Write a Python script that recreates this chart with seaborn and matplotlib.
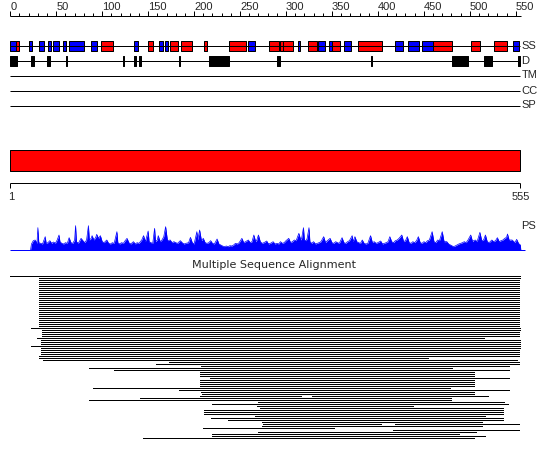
import numpy as np
import pandas as pd
import matplotlib
matplotlib.use("Agg")
import matplotlib.pyplot as plt
import seaborn as sns

sns.set_style("white")
plt.rcParams['font.family'] = ['Liberation Sans', 'DejaVu Sans']

seq_len = 555

# secondary structure (residue ranges)
helix_start = [6, 99, 150, 174, 186, 211, 238, 282, 294, 297, 324, 350, 378, 460, 501, 526]
helix_end = [9, 112, 155, 182, 198, 214, 256, 292, 297, 308, 334, 359, 404, 481, 511, 540]
strand_start = [0, 20, 31, 41, 46, 57, 64, 88, 135, 162, 168, 259, 313, 335, 347, 363, 419, 433, 448, 547]
strand_end = [6, 24, 37, 44, 53, 61, 80, 94, 139, 166, 172, 266, 315, 342, 350, 371, 427, 445, 460, 554]

# disorder
dis_start = [0, 22, 40, 61, 123, 135, 140, 184, 216, 290, 393, 481, 515, 552]
dis_end = [7, 26, 43, 62, 124, 137, 142, 185, 238, 294, 394, 498, 524, 555]

tracks = ["TM", "CC", "SP"]

# ruler ticks
ruler_ticks = list(range(0, 551, 10))
ruler_labels = list(range(0, 551, 50))

# PS profile
ps_pos = [22, 23, 25, 27, 29, 30, 31, 33, 35, 38, 39, 41, 43, 45, 47, 49, 51, 53, 54, 56,
          58, 60, 62, 64, 66, 68, 70, 71, 72, 74, 76, 77, 79, 81, 83, 85, 86, 88, 89, 91,
          93, 94, 96, 98, 100, 102, 105, 107, 109, 111, 113, 116, 117, 119, 121, 123, 125, 127, 129, 131,
          134, 136, 138, 140, 143, 145, 147, 150, 151, 153, 155, 157, 158, 160, 161, 163, 165, 167, 169, 171,
          174, 176, 178, 180, 182, 185, 187, 189, 191, 194, 196, 198, 200, 203, 204, 206, 208, 210, 212, 214,
          216, 218, 220, 222, 225, 227, 229, 231, 233, 235, 237, 239, 241, 243, 245, 247, 249, 252, 254, 256,
          259, 261, 263, 265, 267, 268, 270, 272, 274, 276, 279, 281, 283, 286, 288, 290, 292, 294, 296, 298,
          300, 303, 305, 307, 309, 311, 314, 316, 317, 319, 320, 322, 323, 325, 326, 328, 330, 332, 334, 336,
          338, 341, 343, 345, 348, 350, 352, 354, 356, 358, 361, 363, 365, 367, 369, 372, 373, 375, 377, 379,
          381, 383, 385, 387, 389, 392, 394, 396, 398, 400, 403, 405, 407, 409, 411, 413, 415, 417, 419, 421,
          423, 426, 428, 430, 432, 434, 436, 438, 440, 442, 444, 446, 448, 450, 452, 454, 456, 459, 461, 463,
          465, 467, 470, 472, 475, 477, 479, 481, 482, 484, 486, 488, 490, 492, 494, 496, 498, 501, 503, 504,
          506, 508, 509, 511, 513, 515, 517, 519, 521, 524, 526, 528, 530, 532, 534, 536, 538, 540, 541, 543,
          544, 546, 548, 549, 551, 553, 555, 555.5]
ps_val = [0, 18, 28, 30, 20, 67, 22, 20, 18, 40, 20, 22, 28, 20, 24, 20, 30, 45, 25, 20,
          18, 22, 20, 37, 22, 20, 30, 73, 25, 20, 30, 35, 28, 22, 30, 73, 30, 35, 43, 30,
          38, 47, 35, 43, 25, 22, 30, 20, 18, 22, 20, 55, 22, 18, 22, 20, 28, 35, 22, 18,
          25, 18, 22, 20, 30, 43, 25, 57, 25, 22, 20, 65, 25, 30, 43, 25, 30, 40, 70, 28,
          30, 22, 25, 22, 20, 28, 22, 18, 20, 22, 38, 22, 18, 55, 30, 60, 28, 35, 22, 20,
          22, 28, 20, 18, 33, 18, 15, 12, 10, 12, 10, 13, 12, 15, 20, 18, 22, 35, 22, 25,
          30, 22, 25, 45, 25, 28, 45, 25, 20, 22, 27, 18, 20, 25, 18, 20, 18, 25, 20, 22,
          28, 35, 22, 25, 30, 28, 50, 30, 35, 67, 30, 28, 35, 67, 25, 20, 25, 18, 20, 22,
          25, 40, 22, 28, 35, 22, 20, 25, 22, 20, 37, 22, 20, 25, 28, 43, 25, 40, 25, 22,
          20, 30, 20, 18, 20, 43, 22, 25, 20, 22, 27, 18, 20, 22, 25, 40, 25, 22, 28, 30,
          35, 45, 25, 28, 40, 22, 20, 25, 22, 28, 40, 22, 20, 25, 22, 28, 30, 55, 25, 22,
          30, 28, 55, 25, 25, 18, 15, 12, 10, 12, 15, 18, 20, 22, 25, 22, 30, 45, 25, 28,
          30, 25, 35, 53, 28, 30, 45, 25, 22, 30, 25, 28, 37, 25, 28, 30, 35, 38, 48, 28,
          30, 30, 25, 22, 32, 20, 15, 0]

# multiple sequence alignment hits: row, start, end
msa_row = [0, 1, 2, 3, 4, 5, 6, 7, 8, 9, 10, 11, 12, 13, 14, 15, 16, 17, 18, 19,
           20, 21, 22, 23, 24, 25, 26, 27, 28, 29, 30, 31, 32, 33, 34, 35, 36, 37, 38, 39,
           40, 41, 42, 43, 44, 45, 46, 47, 48, 49, 50, 51, 52, 53, 54, 55, 56, 57, 58, 59,
           60, 60, 61, 62, 63, 64, 65, 66, 67, 68, 69, 70, 71, 72, 73, 74, 74, 75, 76, 77,
           78, 79, 80, 81]
msa_start = [0, 31, 31, 31, 31, 31, 31, 31, 31, 31, 31, 31, 31, 31, 31, 31, 31, 31, 31, 31,
             31, 31, 31, 31, 31, 31, 23, 34, 34, 34, 34, 29, 33, 33, 33, 23, 33, 33, 33, 33,
             31, 31, 36, 173, 158, 207, 86, 113, 206, 206, 206, 217, 206, 206, 206, 206, 90, 184, 207, 209,
             206, 328, 141, 86, 270, 220, 268, 272, 211, 211, 211, 266, 218, 237, 274, 275, 419, 274, 210, 416,
             270, 220, 220, 144]
msa_end = [555, 555, 553, 553, 553, 553, 553, 553, 553, 553, 553, 553, 553, 553, 553, 553, 553, 553, 553, 553,
           553, 553, 553, 553, 553, 553, 555, 555, 554, 554, 554, 515, 555, 555, 555, 555, 555, 554, 554, 554,
           554, 455, 551, 554, 554, 543, 481, 543, 505, 505, 505, 543, 505, 505, 505, 505, 478, 543, 505, 505,
           316, 520, 479, 480, 537, 542, 438, 536, 536, 536, 536, 516, 536, 536, 513, 403, 554, 513, 352, 554,
           507, 488, 516, 505]

W, H = 550, 459
px_per_res = 0.919
x0 = 10.3
xlim = (-x0 / px_per_res, (W - x0) / px_per_res)
one_px = 0.72

fig = plt.figure(figsize=(W / 100, H / 100), dpi=100)
ax = fig.add_axes([0, 0, 1, 1])
ax.set_xlim(xlim)
ax.set_ylim(H, 0)
ax.axis('off')

# top ruler
ax.hlines(15.5, 0, 556, color='black', lw=one_px)
for t in ruler_ticks:
    top = 11 if t in ruler_labels else 12.5
    ax.vlines(t, top, 15.5, color='black', lw=one_px)
for t in ruler_labels:
    ax.text(t, 10, str(t), ha='left', va='baseline', fontsize=8)

# SS track
ax.hlines(46, 0, seq_len, color='black', lw=one_px)
ax.broken_barh([(s, e - s) for s, e in zip(helix_start, helix_end)], (41, 10),
               facecolors='#ff0000', edgecolors='black', linewidth=one_px)
ax.broken_barh([(s, e - s) for s, e in zip(strand_start, strand_end)], (41, 10),
               facecolors='#0000ff', edgecolors='black', linewidth=one_px)
ax.text(556, 46, "SS", ha='left', va='center', fontsize=8)

# disorder track
ax.hlines(60.5, 0, seq_len, color='black', lw=one_px)
ax.broken_barh([(s, e - s) for s, e in zip(dis_start, dis_end)], (55.5, 10),
               facecolors='black', edgecolors='black', linewidth=one_px)
ax.text(556, 60.5, "D", ha='left', va='center', fontsize=8)

for k, name in enumerate(tracks):
    y = 75.5 + 15 * k
    ax.hlines(y, 0, seq_len, color='black', lw=one_px)
    ax.text(556, y, name, ha='left', va='center', fontsize=8)

# domain bar
ax.broken_barh([(0, seq_len)], (150, 21), facecolors='#ff0000', edgecolors='black', linewidth=one_px)
ax.hlines(183, 0, seq_len, color='black', lw=one_px)
ax.vlines([0, seq_len], 183, 187.5, color='black', lw=one_px)
ax.text(1, 197.5, "1", ha='center', va='center', fontsize=8)
ax.text(seq_len, 197.5, str(seq_len), ha='center', va='center', fontsize=8)

# PS profile
ax.hlines(250, 0, 560, color='#0000ff', lw=one_px)
ax.text(556, 226, "PS", ha='left', va='center', fontsize=8)
ax_ps = fig.add_axes([0, (H - 250) / H, 1, 25 / H])
ax_ps.set_xlim(xlim)
ax_ps.set_ylim(0, 75)
ax_ps.axis('off')
ax_ps.patch.set_alpha(0)
ax_ps.fill_between(ps_pos, ps_val, color='#0000ff', lw=0)
sns.lineplot(x=ps_pos, y=ps_val, color='#0000ff', lw=0.5, ax=ax_ps)

# MSA
ax.text(287, 265.5, "Multiple Sequence Alignment", ha='center', va='center', fontsize=8,
        family=['DejaVu Sans'])
ax_msa = fig.add_axes([0, (H - 438.5) / H, 1, 164 / H])
ax_msa.set_xlim(xlim)
ax_msa.set_ylim(81.5, -0.5)
ax_msa.axis('off')
ax_msa.patch.set_alpha(0)
ax_msa.hlines(msa_row, msa_start, msa_end, color='black', lw=one_px, antialiased=False)

fig.savefig("out.png", dpi=100)
